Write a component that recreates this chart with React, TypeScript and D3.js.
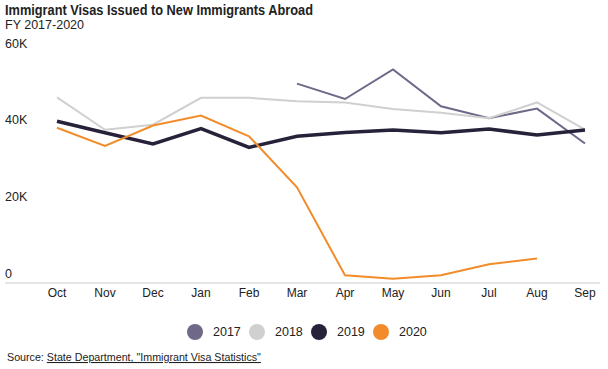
import React, { useRef, useEffect } from "react";
import * as d3 from "d3";

// values in thousands of visas (null = no data)
const months = ["Oct", "Nov", "Dec", "Jan", "Feb", "Mar", "Apr", "May", "Jun", "Jul", "Aug", "Sep"];
const fy2017 = [null, null, null, null, null, 51.9, 47.9, 55.6, 46.0, 42.9, 45.4, 36.3];
const fy2018 = [48.3, 39.9, 41.2, 48.2, 48.2, 47.3, 47.0, 45.3, 44.3, 42.9, 47.0, 39.9];
const fy2019 = [42.1, 39.1, 36.2, 40.2, 35.3, 38.2, 39.2, 39.8, 39.1, 40.1, 38.5, 39.8];
const fy2020 = [40.4, 35.7, 41.0, 43.6, 38.2, 24.9, 2.0, 1.1, 2.0, 4.9, 6.4, null];
const yTicks = [0, 20, 40, 60];

const seriesList = [
    { name: "2017", values: fy2017, color: "#6f6888", width: 2 },
    { name: "2018", values: fy2018, color: "#d0d0d0", width: 2 },
    { name: "2019", values: fy2019, color: "#27223a", width: 3.5 },
    { name: "2020", values: fy2020, color: "#f28c2a", width: 2 },
];

const FONT = "'Liberation Sans', Arial, sans-serif";

const App: React.FC = () => {
    const svgRef = useRef<SVGSVGElement | null>(null);

    useEffect(() => {
        if (!svgRef.current) return;
        const svg = d3.select(svgRef.current);
        svg.selectAll("*").remove();

        const x = d3.scalePoint<string>().domain(months).range([57, 585]);
        const y = d3.scaleLinear().domain([0, 60]).range([283, 52.5]);

        // title
        svg.append("text")
            .attr("x", 5)
            .attr("y", 15)
            .attr("font-size", 14.5)
            .attr("font-weight", "bold")
            .attr("fill", "#222")
            .attr("textLength", 308)
            .attr("lengthAdjust", "spacingAndGlyphs")
            .text("Immigrant Visas Issued to New Immigrants Abroad");
        svg.append("text")
            .attr("x", 5)
            .attr("y", 29)
            .attr("font-size", 12.5)
            .attr("fill", "#222")
            .text("FY 2017-2020");

        // y labels, sitting above their value
        svg.append("g")
            .selectAll("text")
            .data(yTicks)
            .enter()
            .append("text")
            .attr("x", 5)
            .attr("y", (d) => y(d) - 5)
            .attr("font-size", 12.5)
            .attr("fill", "#222")
            .text((d) => (d === 0 ? "0" : `${d}K`));

        // baseline
        svg.append("line")
            .attr("x1", 5)
            .attr("x2", 600)
            .attr("y1", y(0))
            .attr("y2", y(0))
            .attr("stroke", "#dddddd")
            .attr("stroke-width", 1.5);

        // month labels
        svg.append("g")
            .selectAll("text")
            .data(months)
            .enter()
            .append("text")
            .attr("x", (d) => x(d)!)
            .attr("y", 297)
            .attr("text-anchor", "middle")
            .attr("font-size", 12)
            .attr("fill", "#222")
            .text((d) => d);

        const line = d3
            .line<number | null>()
            .defined((d) => d !== null)
            .x((d, i) => x(months[i])!)
            .y((d) => y(d as number));

        svg.append("g")
            .selectAll("path")
            .data(seriesList)
            .enter()
            .append("path")
            .attr("d", (s) => line(s.values))
            .attr("fill", "none")
            .attr("stroke", (s) => s.color)
            .attr("stroke-width", (s) => s.width)
            .attr("stroke-linejoin", "miter");

        // legend
        const legendX = d3.scalePoint<string>().domain(seriesList.map((s) => s.name)).range([195, 381]);
        const legend = svg
            .append("g")
            .selectAll("g")
            .data(seriesList)
            .enter()
            .append("g")
            .attr("transform", (s) => `translate(${legendX(s.name)},332)`);
        legend.append("circle").attr("r", 8).attr("fill", (s) => s.color);
        legend.append("text")
            .attr("x", 18)
            .attr("dy", "0.35em")
            .attr("font-size", 12.5)
            .attr("fill", "#222")
            .text((s) => s.name);

        // source
        const src = svg.append("text")
            .attr("x", 7)
            .attr("y", 361)
            .attr("font-size", 10.7)
            .attr("fill", "#222");
        src.append("tspan").text("Source: ");
        src.append("tspan")
            .attr("text-decoration", "underline")
            .text("State Department, \"Immigrant Visa Statistics\"");
    }, []);

    return (
        <svg
            ref={svgRef}
            width={608}
            height={369}
            style={{ position: "absolute", left: 0, top: 0, fontFamily: FONT, background: "#fff" }}
        />
    );
};

export default App;
